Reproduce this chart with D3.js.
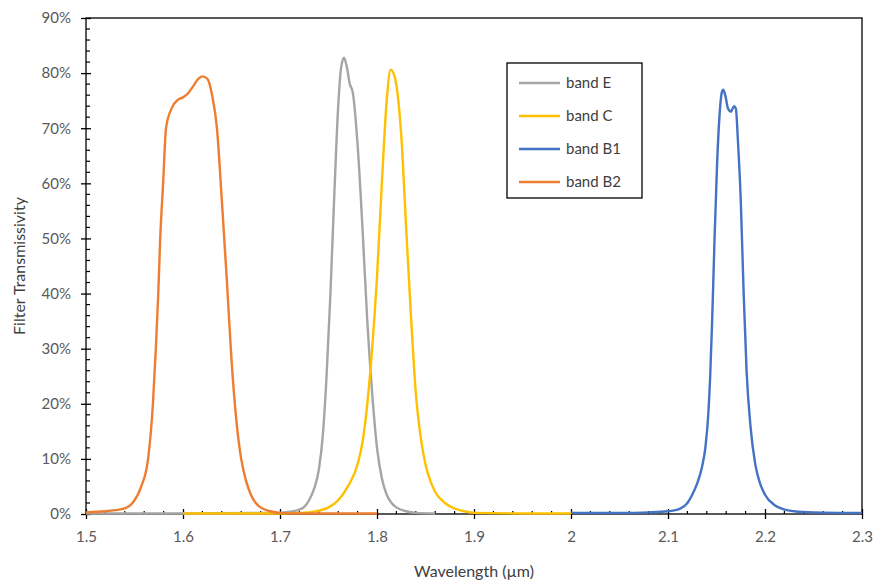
<!DOCTYPE html>
<html>
<head>
<meta charset="utf-8">
<script src="https://cdn.jsdelivr.net/npm/d3@7"></script>
<style>
  body { margin: 0; background: #fff; }
  svg text { font-family: Lato, "Open Sans", sans-serif; }
</style>
</head>
<body>
<div id="chart"></div>
<script>
// data: [wavelength um, transmissivity %]
var bandE = [[1.50,0.1],[1.60,0.1],[1.70,0.2],[1.71,0.4],[1.72,0.8],[1.725,1.3],[1.73,2.5],[1.735,4.5],[1.74,8],[1.744,14],[1.748,25],[1.752,40],[1.756,58],[1.76,74],[1.763,81],[1.766,82.8],[1.769,81],[1.772,78],[1.775,76.5],[1.78,67],[1.785,52],[1.79,35],[1.795,22],[1.80,12],[1.805,6.5],[1.81,3.5],[1.815,2],[1.82,1.2],[1.83,0.5],[1.84,0.2],[1.86,0.1]]
var bandC = [[1.60,0.1],[1.70,0.1],[1.73,0.3],[1.74,0.6],[1.75,1.2],[1.76,2.5],[1.77,5],[1.78,9],[1.785,13],[1.79,20],[1.795,30],[1.80,43],[1.805,60],[1.81,75],[1.814,80.6],[1.818,79.5],[1.822,75],[1.826,66],[1.83,52],[1.835,36],[1.84,22],[1.845,14],[1.85,9],[1.855,6],[1.86,4],[1.87,2],[1.88,1],[1.89,0.5],[1.90,0.2],[1.95,0.1],[2.0,0.1]]
var bandB1 = [[2.00,0.2],[2.05,0.2],[2.08,0.3],[2.10,0.5],[2.11,0.8],[2.12,2],[2.125,3.5],[2.13,5.5],[2.135,8.5],[2.1385,12],[2.1415,18],[2.1435,25],[2.1455,35],[2.148,50],[2.1505,63],[2.153,72],[2.1555,76.5],[2.157,77],[2.159,76],[2.162,73.5],[2.165,73],[2.168,74],[2.170,73.5],[2.172,68],[2.175,57],[2.178,40],[2.181,26],[2.185,16],[2.19,9],[2.195,5.5],[2.20,3.5],[2.21,1.6],[2.22,0.8],[2.23,0.5],[2.25,0.3],[2.30,0.2]]
var bandB2 = [[1.50,0.3],[1.52,0.5],[1.53,0.7],[1.54,1],[1.548,2],[1.557,5],[1.564,10],[1.569,20],[1.572,30],[1.5745,40],[1.5765,50],[1.5795,60],[1.5825,70],[1.588,73.5],[1.595,75.2],[1.60,75.6],[1.605,76.3],[1.61,77.5],[1.615,78.8],[1.62,79.4],[1.625,79],[1.63,76],[1.635,70],[1.64,57],[1.645,43],[1.65,28],[1.655,17],[1.66,10],[1.665,6],[1.67,3.5],[1.675,2],[1.68,1.2],[1.69,0.5],[1.70,0.2],[1.72,0.1],[1.80,0.1]]

var seriesNames = ["band E", "band C", "band B1", "band B2"]
var seriesColors = ["#a5a5a5", "#ffc000", "#4472c4", "#ed7d31"]
var xTicks = [1.5, 1.6, 1.7, 1.8, 1.9, 2, 2.1, 2.2, 2.3]
var yTicks = [0, 10, 20, 30, 40, 50, 60, 70, 80, 90]

var width = 878, height = 581
// plot area edges (window.top is taken, so own names)
var plotL = 86, plotR = 862, plotT = 18, plotB = 514

var x = d3.scaleLinear().domain([1.5, 2.3]).range([plotL, plotR])
var y = d3.scaleLinear().domain([0, 90]).range([plotB, plotT])

var svg = d3.select("#chart").append("svg")
    .attr("width", width)
    .attr("height", height)

// plot area border
svg.append("rect")
    .attr("x", plotL).attr("y", plotT)
    .attr("width", plotR - plotL).attr("height", plotB - plotT)
    .attr("fill", "none").attr("stroke", "#000").attr("stroke-width", 1.3)

// minor ticks
var yMinor = d3.range(0, 90, 2).filter(function (d) { return d % 10 != 0 })
svg.selectAll(".ymin").data(yMinor).enter().append("line")
    .attr("x1", plotL).attr("x2", plotL + 4)
    .attr("y1", function (d) { return y(d) }).attr("y2", function (d) { return y(d) })
    .attr("stroke", "#000").attr("stroke-width", 1.2)

var xMinor = d3.range(0, 40).map(function (i) { return 1.5 + i * 0.02 }).filter(function (d, i) { return i % 5 != 0 })
svg.selectAll(".xmin").data(xMinor).enter().append("line")
    .attr("x1", function (d) { return x(d) }).attr("x2", function (d) { return x(d) })
    .attr("y1", plotB).attr("y2", plotB - 3)
    .attr("stroke", "#000").attr("stroke-width", 1.2)

// major ticks via axes
var yAxis = svg.append("g")
    .attr("transform", "translate(" + plotL + ",0)")
    .call(d3.axisLeft(y).tickValues(yTicks).tickFormat(function (d) { return d + "%" }).tickSizeInner(5).tickSizeOuter(0).tickPadding(10))
yAxis.select(".domain").remove()
yAxis.selectAll(".tick line").attr("x2", 5).attr("x1", -5).attr("stroke-width", 1.3)
yAxis.selectAll("text").attr("font-size", 15).attr("fill", "#595959")

var xAxis = svg.append("g")
    .attr("transform", "translate(0," + plotB + ")")
    .call(d3.axisBottom(x).tickValues(xTicks).tickFormat(d3.format("")).tickSizeInner(5).tickSizeOuter(0).tickPadding(12))
xAxis.select(".domain").remove()
xAxis.selectAll(".tick line").attr("y1", -5).attr("y2", 5).attr("stroke-width", 1.3)
xAxis.selectAll("text").attr("font-size", 15).attr("fill", "#595959")

// curves
var line = d3.line()
    .x(function (d) { return x(d[0]) })
    .y(function (d) { return y(d[1]) })
    .curve(d3.curveMonotoneX)

var allSeries = [bandE, bandC, bandB1, bandB2]
allSeries.forEach(function (s, i) {
    svg.append("path")
        .datum(s)
        .attr("d", line)
        .attr("fill", "none")
        .attr("stroke", seriesColors[i])
        .attr("stroke-width", 2.4)
        .attr("stroke-linejoin", "round")
})

// axis titles
svg.append("text")
    .attr("x", (plotL + plotR) / 2).attr("y", 577)
    .attr("text-anchor", "middle")
    .attr("font-size", 16).attr("fill", "#404040")
    .text("Wavelength (µm)")

svg.append("text")
    .attr("transform", "translate(25," + (plotT + plotB) / 2 + ") rotate(-90)")
    .attr("text-anchor", "middle")
    .attr("font-size", 16).attr("fill", "#404040")
    .text("Filter Transmissivity")

// legend
var legend = svg.append("g").attr("transform", "translate(507,63)")
legend.append("rect")
    .attr("width", 135).attr("height", 135)
    .attr("fill", "#fff").attr("stroke", "#000").attr("stroke-width", 1.3)

seriesNames.forEach(function (name, i) {
    var yy = 20 + i * 33
    legend.append("line")
        .attr("x1", 12).attr("x2", 53)
        .attr("y1", yy).attr("y2", yy)
        .attr("stroke", seriesColors[i]).attr("stroke-width", 2.4)
    legend.append("text")
        .attr("x", 59).attr("y", yy + 5)
        .attr("font-size", 15).attr("fill", "#404040")
        .text(name)
})
</script>
</body>
</html>
